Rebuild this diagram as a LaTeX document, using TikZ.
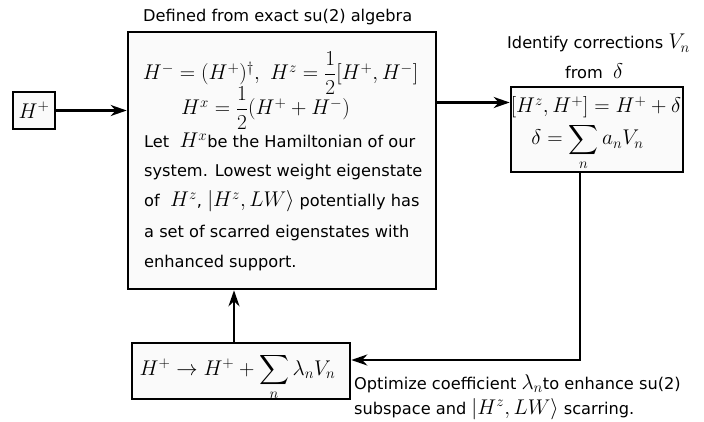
\RequirePackage{fix-cm}
\documentclass[tikz,border=0pt]{standalone}
\usepackage{amsmath}
\usepackage[no-math]{fontspec}
\setmainfont{DejaVu Sans}
\usetikzlibrary{arrows.meta}
\newcommand{\mth}[1]{{\fontsize{21.3}{24}\selectfont$#1$}}
\begin{document}
\begin{tikzpicture}[x=1pt,y=-1pt,
  box/.style={draw=black, line width=2.6pt, fill=black!2, inner sep=0pt},
  txt/.style={anchor=base west, inner sep=0pt, font=\fontsize{16.2}{19}\selectfont},
  eq/.style={anchor=base, inner sep=0pt, font=\fontsize{21.3}{24}\selectfont},
  arr/.style={line width=2.3pt, -{Stealth[length=16pt,width=11pt,inset=5pt]}}
]
\useasboundingbox (0,0) rectangle (704,422);
% boxes
\node[box, minimum width=42pt, minimum height=37pt] (hp) at (34,110.5) {};
\node[box, minimum width=308pt, minimum height=257pt] (main) at (282,160.5) {};
\node[box, minimum width=172pt, minimum height=85pt] (rb) at (597,129.5) {};
\node[box, minimum width=218pt, minimum height=56pt] (bb) at (241,371) {};
% box contents
\node[eq, anchor=center] (hpt) at (hp) {$H^+$};
\node[eq] (m1) at (280.5,80) {$H^- = (H^+)^\dagger,\ H^z = \dfrac{1}{2}[H^+,H^-]$};
\node[eq] (m2) at (265.5,115) {$H^x = \dfrac{1}{2}(H^+ + H^-)$};
\node[txt] (t1) at (144,148) {Let\ \ \mth{H^x}be the Hamiltonian of our};
\node[txt] (t2) at (144,177) {system. Lowest weight eigenstate};
\node[txt] (t3) at (144,207) {of\ \ \mth{H^z}, \mth{|H^z,LW\rangle} potentially has};
\node[txt] (t4) at (144,237) {a set of scarred eigenstates with};
\node[txt] (t5) at (144,267) {enhanced support.};
\node[eq] (r1) at (596,113) {$[H^z,H^+] = H^+ + \delta$};
\node[eq] (r2) at (587.5,145) {$\delta = \displaystyle\sum_n a_n V_n$};
\node[eq] (b1) at (237.5,375) {$H^+ \to H^+ + \displaystyle\sum_n \lambda_n V_n$};
% labels
\node[txt] (ttl) at (143,22) {Defined from exact su(2) algebra};
\node[txt] (rt1) at (507,49) {Identify corrections \mth{V_n}};
\node[txt] (rt2) at (565,79) {from\ \ \mth{\delta}};
\node[txt] (bt1) at (354,389) {Optimize coefficient \mth{\lambda_n}to enhance su(2)};
\node[txt] (bt2) at (354,414) {subspace and \mth{|H^z,LW\rangle} scarring.};
% connectors
\coordinate (corner) at (580,360);
\coordinate (upx) at (234,320);
\draw[arr] (hp.east) -- (hp.east -| main.west);
\draw[arr] (main.east |- r1) ++(0,-5) coordinate (ma) -- (ma -| rb.west);
\draw[arr] (corner |- rb.south) -- (corner) -- (corner -| bb.east);
\draw[arr] (upx |- bb.north) -- (upx |- main.south);
\end{tikzpicture}
\end{document}
